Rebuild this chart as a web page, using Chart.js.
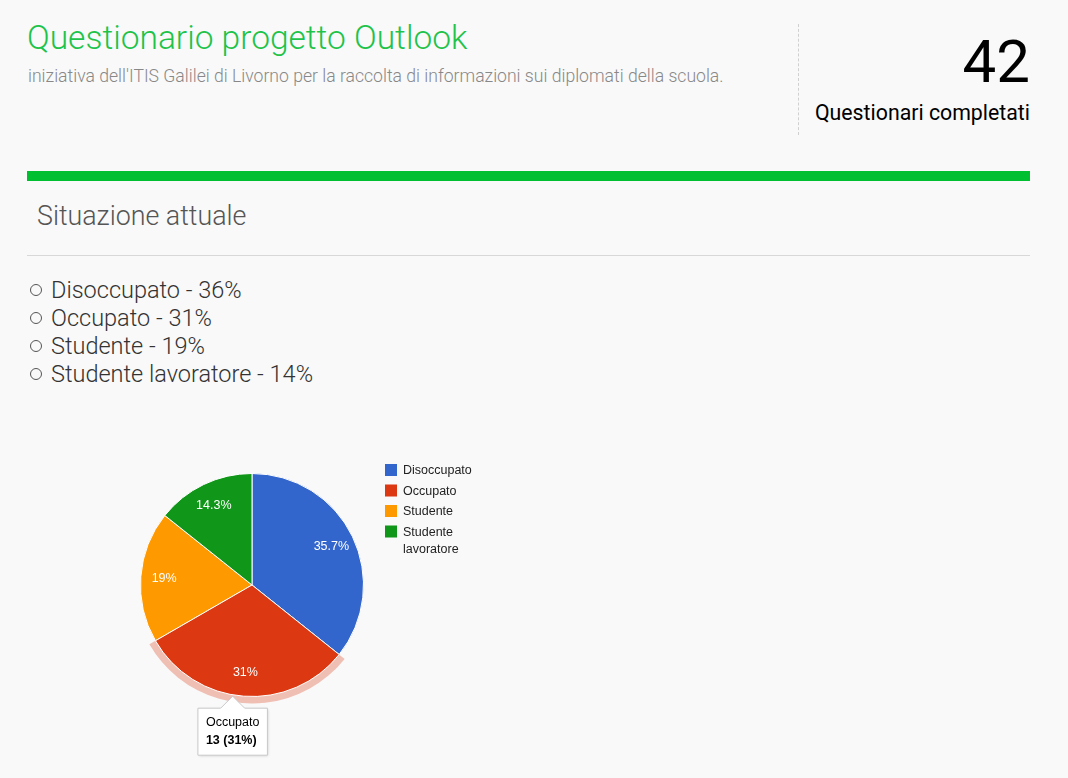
<!DOCTYPE html>
<html>
<head>
<meta charset="utf-8">
<script src="https://cdn.jsdelivr.net/npm/chart.js@4.4.1/dist/chart.umd.min.js"></script>
<style>
  html, body { margin: 0; padding: 0; }
  body { width: 1068px; height: 778px; background: #f9f9f9; position: relative; overflow: hidden; font-family: Roboto, "Noto Sans", sans-serif; }
  #title { position: absolute; left: 27px; top: 18px; font-size: 33.5px; font-weight: 300; color: #1ec34a; white-space: nowrap; }
  #subtitle { position: absolute; left: 28px; top: 66px; font-size: 17.6px; font-weight: 300; color: #888; white-space: nowrap; }
  #divider { position: absolute; left: 798px; top: 24px; height: 111px; border-left: 1px dashed #d0d0d0; }
  #count { position: absolute; right: 38px; top: 27px; font-size: 60px; font-weight: 400; color: #000; line-height: 70px; }
  #countLabel { position: absolute; right: 38px; top: 100px; font-size: 21.3px; font-weight: 400; color: #000; white-space: nowrap; }
  #bar { position: absolute; left: 27px; top: 171px; width: 1003px; height: 10px; background: #00c032; }
  #section { position: absolute; left: 37px; top: 200px; font-size: 26.8px; font-weight: 300; color: #555; white-space: nowrap; }
  #rule { position: absolute; left: 27px; top: 255px; width: 1003px; height: 1px; background: #d8d8d8; }
  #list { position: absolute; left: 30px; top: 276px; margin: 0; padding: 0; list-style: none; }
  #list li { font-size: 23.5px; font-weight: 300; color: #333; line-height: 28px; white-space: nowrap; }
  #list li .dot { display: inline-block; width: 10px; height: 10px; border: 1px solid #555; border-radius: 50%; margin-right: 9px; vertical-align: 2px; }
  #chartBox { position: absolute; left: 130px; top: 440px; width: 380px; height: 330px; }
</style>
</head>
<body>
<div id="title">Questionario progetto Outlook</div>
<div id="subtitle">iniziativa dell'ITIS Galilei di Livorno per la raccolta di informazioni sui diplomati della scuola.</div>
<div id="divider"></div>
<div id="count"></div>
<div id="countLabel">Questionari completati</div>
<div id="bar"></div>
<div id="section">Situazione attuale</div>
<div id="rule"></div>
<ul id="list"></ul>
<div id="chartBox"><canvas id="pie" width="380" height="330"></canvas></div>
<script>
const categories = ["Disoccupato", "Occupato", "Studente", "Studente lavoratore"];
const counts = [15, 13, 8, 6];
const sliceColors = ["#3366cc", "#dc3912", "#ff9900", "#109618"];
const highlightedIndex = 1;

const total = counts.reduce((a, b) => a + b, 0);
document.getElementById('count').textContent = total;

function pct1(v) { return String(Math.round(v / total * 1000) / 10); }
function pct0(v) { return String(Math.round(v / total * 100)); }

const list = document.getElementById('list');
categories.forEach((c, i) => {
  const li = document.createElement('li');
  li.innerHTML = '<span class="dot"></span>' + c + ' - ' + pct0(counts[i]) + '%';
  list.appendChild(li);
});

const LABEL_FONT = '12.5px Arial, "Liberation Sans", sans-serif';

const haloPlugin = {
  id: 'halo',
  beforeDatasetsDraw(chart) {
    const el = chart.getDatasetMeta(0).data[highlightedIndex];
    if (!el) return;
    const ctx = chart.ctx;
    ctx.save();
    ctx.beginPath();
    ctx.moveTo(el.x, el.y);
    ctx.arc(el.x, el.y, el.outerRadius + 7, el.startAngle, el.endAngle);
    ctx.closePath();
    ctx.fillStyle = 'rgba(220,57,18,0.3)';
    ctx.fill();
    ctx.restore();
  }
};

const sliceLabelPlugin = {
  id: 'sliceLabels',
  afterDatasetsDraw(chart) {
    const ctx = chart.ctx;
    const meta = chart.getDatasetMeta(0);
    ctx.save();
    ctx.font = LABEL_FONT;
    ctx.fillStyle = '#ffffff';
    ctx.textAlign = 'center';
    ctx.textBaseline = 'middle';
    meta.data.forEach((el, i) => {
      const mid = (el.startAngle + el.endAngle) / 2;
      const r = el.outerRadius * 0.79;
      ctx.fillText(pct1(counts[i]) + '%', el.x + Math.cos(mid) * r, el.y + Math.sin(mid) * r);
    });
    ctx.restore();
  }
};

const legendPlugin = {
  id: 'sideLegend',
  afterDraw(chart) {
    const ctx = chart.ctx;
    const area = chart.chartArea;
    const x0 = area.right + 21;
    let y = area.top - 3;
    ctx.save();
    ctx.font = LABEL_FONT;
    ctx.textBaseline = 'middle';
    ctx.textAlign = 'left';
    categories.forEach((c, i) => {
      ctx.fillStyle = sliceColors[i];
      ctx.fillRect(x0, y - 6, 12, 12);
      ctx.fillStyle = '#222222';
      const words = c.split(' ');
      const lines = words.length > 1 ? [words[0], words.slice(1).join(' ')] : [c];
      lines.forEach((ln, k) => ctx.fillText(ln, x0 + 18, y + 1 + k * 17));
      y += 20.5;
    });
    ctx.restore();
  }
};

const tooltipShadowPlugin = {
  id: 'tooltipShadow',
  beforeTooltipDraw(chart, args) {
    const t = args.tooltip;
    if (!t || !t.opacity) return;
    const ctx = chart.ctx;
    ctx.save();
    ctx.shadowColor = 'rgba(0,0,0,0.25)';
    ctx.shadowBlur = 3;
    ctx.shadowOffsetX = 1;
    ctx.shadowOffsetY = 1;
    ctx.fillStyle = '#ffffff';
    ctx.fillRect(t.x, t.y, t.width, t.height);
    ctx.restore();
  }
};

Chart.Tooltip.positioners.sliceEdge = function(items) {
  if (!items.length) return false;
  const el = items[0].element;
  const mid = (el.startAngle + el.endAngle) / 2;
  return { x: el.x + Math.cos(mid) * el.outerRadius - 11, y: el.y + Math.sin(mid) * el.outerRadius };
};

const chart = new Chart(document.getElementById('pie'), {
  type: 'pie',
  data: {
    labels: categories,
    datasets: [{
      data: counts,
      backgroundColor: sliceColors,
      hoverBackgroundColor: sliceColors,
      borderColor: '#ffffff',
      hoverBorderColor: '#ffffff',
      borderWidth: 1,
      hoverBorderWidth: 1,
      hoverOffset: 0,
      offset: 0
    }]
  },
  options: {
    responsive: false,
    animation: false,
    events: [],
    layout: { padding: { left: 10, top: 33, right: 146, bottom: 73 } },
    plugins: {
      legend: { display: false },
      tooltip: {
        enabled: true,
        animation: false,
        position: 'sliceEdge',
        xAlign: 'center',
        yAlign: 'top',
        backgroundColor: '#ffffff',
        borderColor: '#c8c8c8',
        borderWidth: 1,
        cornerRadius: 0,
        caretSize: 12,
        caretPadding: 0,
        displayColors: false,
        padding: { left: 8, right: 8, top: 7, bottom: 7 },
        titleColor: '#000000',
        bodyColor: '#000000',
        titleFont: { family: 'Arial, "Liberation Sans", sans-serif', size: 12.5, weight: 'normal' },
        bodyFont: { family: 'Arial, "Liberation Sans", sans-serif', size: 12.5, weight: 'bold' },
        titleMarginBottom: 3,
        callbacks: {
          title: (items) => items[0].label,
          label: (item) => item.raw + ' (' + pct0(item.raw) + '%)'
        }
      }
    }
  },
  plugins: [haloPlugin, sliceLabelPlugin, legendPlugin, tooltipShadowPlugin]
});

const active = [{ datasetIndex: 0, index: highlightedIndex }];
chart.setActiveElements(active);
chart.tooltip.setActiveElements(active, { x: 0, y: 0 });
chart.update('none');
</script>
</body>
</html>
